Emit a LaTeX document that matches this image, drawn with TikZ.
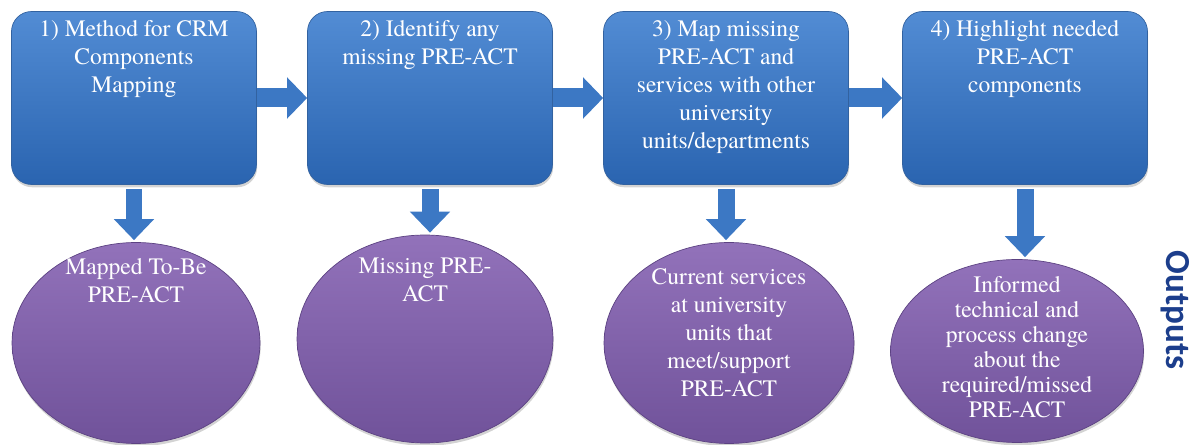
\documentclass[tikz,border=0pt]{standalone}
\usepackage{fontspec}
\setmainfont{TeX Gyre Termes}
\newfontfamily\stepfont{TeX Gyre Termes}
\newfontfamily\labelfont{Carlito}
\usepackage{xcolor}
\usetikzlibrary{shapes.geometric, arrows.meta, positioning, shadows}
\definecolor{boxtop}{RGB}{82,140,212}
\definecolor{boxbot}{RGB}{42,100,176}
\definecolor{boxline}{RGB}{50,98,160}
\definecolor{elltop}{RGB}{146,114,186}
\definecolor{ellbot}{RGB}{112,82,154}
\definecolor{ellline}{RGB}{92,66,130}
\definecolor{flowblue}{RGB}{60,120,196}
\definecolor{outblue}{RGB}{28,62,140}
\tikzstyle{flow}     = [line width=0.38cm, draw=flowblue, -{Triangle[length=0.4cm, width=0.8cm]}]
\tikzstyle{downflow} = [line width=0.34cm, draw=flowblue, -{Triangle[length=0.42cm, width=0.78cm]},
                        shorten <=0.08cm, shorten >=0.04cm]
\tikzset{every node/.style={align=center}}

\begin{document}
\begin{tikzpicture}[x=0.02cm, y=-0.02cm,
    stepbox/.style={rectangle, rounded corners=0.4cm, draw=boxline, top color=boxtop, bottom color=boxbot,
                    minimum width=4.9cm, minimum height=3.46cm,
                    drop shadow={shadow xshift=0.4pt, shadow yshift=-1.6pt, opacity=0.35}},
    outbox/.style={ellipse, draw=ellline, top color=elltop, bottom color=ellbot, inner sep=0pt,
                   drop shadow={shadow xshift=0.4pt, shadow yshift=-1.6pt, opacity=0.35}},
    steptext/.style={text=white, inner sep=0pt, anchor=north, font=\stepfont\fontsize{13.4}{15.9}\selectfont}
]
  \useasboundingbox (0,0) rectangle (1197,445);

  % --- Steps (row 1) ---
  \node[stepbox] (b1) at (134, 98)  {};
  \node[stepbox] (b2) at (430, 98)  {};
  \node[stepbox] (b3) at (726, 98)  {};
  \node[stepbox] (b4) at (1025, 98) {};
  \node[steptext, below=0.18cm of b1.north] (t1) {1) Method for CRM\\Components\\Mapping};
  \node[steptext, below=0.18cm of b2.north] (t2) {2) Identify any\\missing PRE-ACT};
  \node[steptext, below=0.18cm of b3.north] (t3) {3) Map missing\\PRE-ACT and\\services with other\\university\\units/departments};
  \node[steptext, below=0.18cm of b4.north] (t4) {4) Highlight needed\\PRE-ACT\\components};
  \draw[flow] (b1.east) -- (b2.west);
  \draw[flow] (b2.east) -- (b3.west);
  \draw[flow] (b3.east) -- (b4.west);

  % --- Outputs (row 2) ---
  \node[outbox, minimum width=4.96cm, minimum height=4.02cm] (e1) at (136, 343)  {};
  \node[outbox, minimum width=5.12cm, minimum height=4.16cm] (e2) at (425, 339)  {};
  \node[outbox, minimum width=5.0cm,  minimum height=4.02cm] (e3) at (729, 343)  {};
  \node[outbox, minimum width=5.06cm, minimum height=3.66cm] (e4) at (1017, 351) {};
  \node[steptext, below=0.32cm of e1.north] (o1) {Mapped To-Be\\PRE-ACT};
  \node[steptext, below=0.46cm of e2.north] (o2) {Missing PRE-\\ACT};
  \node[steptext, below=0.52cm of e3.north] (o3) {Current services\\at university\\units that\\meet/support\\PRE-ACT};
  \node[steptext, below=0.34cm of e4.north, font=\stepfont\fontsize{13.4}{14.2}\selectfont] (o4)
       {Informed\\technical and\\process change\\about the\\required/missed\\PRE-ACT};
  \draw[downflow] (b1.south) -- (b1.south |- e1.north);
  \draw[downflow] (b2.south) -- (b2.south |- e2.north);
  \draw[downflow] (b3.south) -- (b3.south |- e3.north);
  \draw[downflow] (b4.south) -- (b4.south |- e4.north);

  \node[rotate=-90, text=outblue, font=\labelfont\bfseries\fontsize{20}{24}\selectfont] (out) at (1175, 310) {Outputs};
\end{tikzpicture}
\end{document}
